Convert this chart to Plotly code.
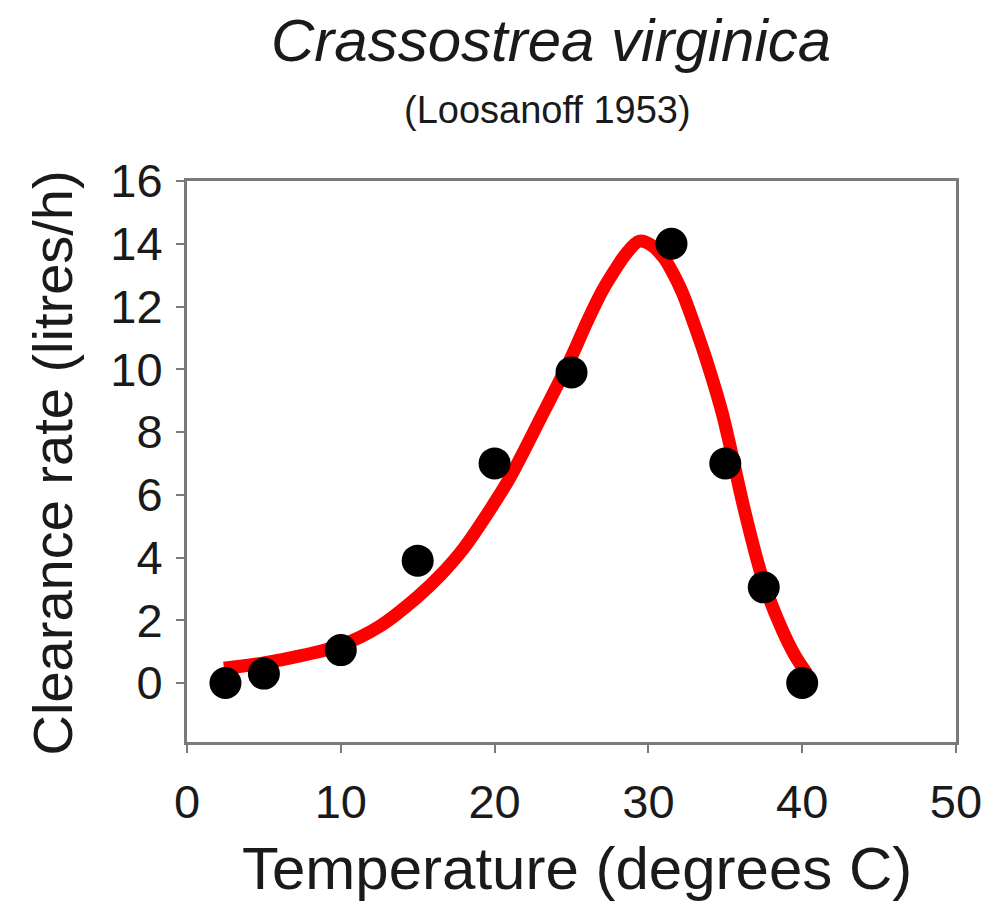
import plotly.graph_objects as go

# Observed data (Loosanoff 1953)
temp_obs = [2.5, 5, 10, 15, 20, 25, 31.5, 35, 37.5, 40]
rate_obs = [0.0, 0.3, 1.05, 3.9, 7.0, 9.9, 14.0, 7.0, 3.05, 0.0]

# Fitted curve
temp_fit = [2.4, 5, 7.5, 10, 12.5, 15, 16.5, 18, 20, 21, 23, 25, 26, 27, 28, 28.5, 29.4,
            30.2, 31, 31.5, 32.2, 33, 33.7, 34.8, 36.3, 37.5, 38.7, 39.5, 40.3]
rate_fit = [0.47, 0.64, 0.88, 1.2, 1.8, 2.75, 3.45, 4.3, 5.75, 6.55, 8.45, 10.4, 11.5, 12.5,
            13.3, 13.65, 14.08, 13.95, 13.55, 13.15, 12.45, 11.4, 10.4, 8.6, 5.4, 3.2, 1.69,
            0.9, 0.3]

x_ticks = [0, 10, 20, 30, 40, 50]
y_ticks = [0, 2, 4, 6, 8, 10, 12, 14, 16]

title_text = "<i>Crassostrea virginica</i>"
subtitle_text = "(Loosanoff 1953)"
x_title = "Temperature (degrees C)"
y_title = "Clearance rate (litres/h)"

FONT = "Arial, Liberation Sans, sans-serif"
AXIS_COLOR = "#7a7a7a"

fig = go.Figure()
fig.add_trace(go.Scatter(
    x=temp_fit, y=rate_fit, mode="lines",
    line=dict(color="#ff0000", width=13, shape="spline", smoothing=1.0),
    hoverinfo="skip", showlegend=False,
))
fig.add_trace(go.Scatter(
    x=temp_obs, y=rate_obs, mode="markers",
    marker=dict(color="black", size=32, line=dict(width=0)),
    showlegend=False,
))

fig.update_layout(
    width=994, height=914, autosize=False,
    margin=dict(l=187, r=30, t=181, b=172),
    paper_bgcolor="white", plot_bgcolor="white",
    font=dict(family=FONT, color="#1a1a1a"),
    xaxis=dict(
        range=[0, 50], tickvals=x_ticks, ticktext=[str(v) for v in x_ticks],
        showgrid=False, zeroline=False,
        showline=True, linecolor=AXIS_COLOR, linewidth=3, mirror=True,
        ticks="outside", ticklen=8, tickwidth=2, tickcolor=AXIS_COLOR,
        tickfont=dict(size=47, family=FONT, color="#1a1a1a"),
        ticklabelstandoff=9,
    ),
    yaxis=dict(
        range=[-1.88, 16], tickvals=y_ticks, ticktext=[str(v) for v in y_ticks],
        showgrid=False, zeroline=False,
        showline=True, linecolor=AXIS_COLOR, linewidth=3, mirror=True,
        ticks="outside", ticklen=8, tickwidth=2, tickcolor=AXIS_COLOR,
        tickfont=dict(size=47, family=FONT, color="#1a1a1a"),
        ticklabelstandoff=4,
    ),
    annotations=[
        dict(text=title_text, xref="paper", yref="paper", x=0.4736, y=1.2513,
             xanchor="center", yanchor="middle", showarrow=False,
             font=dict(size=60, family=FONT, color="#1a1a1a")),
        dict(text=subtitle_text, xref="paper", yref="paper", x=0.4685, y=1.1266,
             xanchor="center", yanchor="middle", showarrow=False,
             font=dict(size=38, family=FONT, color="#1a1a1a")),
        dict(text=x_title, xref="paper", yref="paper", x=0.507, y=-0.2246,
             xanchor="center", yanchor="middle", showarrow=False,
             font=dict(size=60, family=FONT, color="#1a1a1a")),
        dict(text=y_title, xref="paper", yref="paper", x=-0.175, y=0.4973,
             xanchor="center", yanchor="middle", showarrow=False, textangle=-90,
             font=dict(size=56, family=FONT, color="#1a1a1a")),
    ],
)

fig.write_html(
    "out.html",
    config={"displayModeBar": False},
    post_script="document.body.style.margin='0';document.body.style.overflow='hidden';",
)
